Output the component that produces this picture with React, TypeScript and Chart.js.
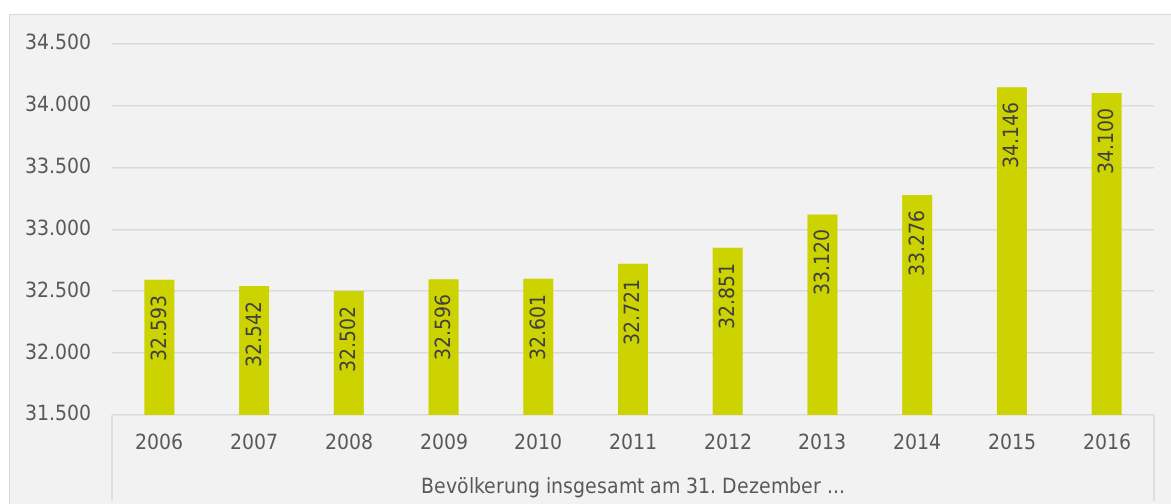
import React, { useEffect, useRef } from "react";
import { Chart, registerables } from "chart.js";

Chart.register(...registerables);

const years: string[] = ["2006", "2007", "2008", "2009", "2010", "2011", "2012", "2013", "2014", "2015", "2016"];
const population: number[] = [32593, 32542, 32502, 32596, 32601, 32721, 32851, 33120, 33276, 34146, 34100];
const axisTitle = "Bevölkerung insgesamt am 31. Dezember ...";
const yMin = 31500;
const yMax = 34500;
const yStep = 500;

const FONT = "DVCond, 'Liberation Sans', sans-serif";
const BAR = "rgb(204,211,0)";
const GRID = "#d9d9d9";
const TEXT = "#595959";

const fmt = (v: number): string => {
  const s = Math.round(v).toString();
  return s.replace(/\B(?=(\d{3})+(?!\d))/g, ".");
};

const barLabels = {
  id: "barLabels",
  afterDatasetsDraw(chart: any) {
    const ctx = chart.ctx;
    const meta = chart.getDatasetMeta(0);
    ctx.save();
    ctx.font = `21px ${FONT}`;
    ctx.fillStyle = "#404040";
    ctx.textAlign = "right";
    ctx.textBaseline = "middle";
    meta.data.forEach((bar: any, i: number) => {
      ctx.save();
      ctx.translate(bar.x + 1, bar.y + 15);
      ctx.rotate(-Math.PI / 2);
      ctx.fillText(fmt(population[i]), 0, 0);
      ctx.restore();
    });
    ctx.restore();
  },
};

const axisFrame = {
  id: "axisFrame",
  afterDraw(chart: any) {
    const { ctx, chartArea } = chart;
    ctx.save();
    ctx.strokeStyle = GRID;
    ctx.lineWidth = 1.5;
    ctx.beginPath();
    ctx.moveTo(chartArea.left, chartArea.bottom);
    ctx.lineTo(chartArea.left, chartArea.bottom + 86);
    ctx.moveTo(chartArea.right, chartArea.bottom);
    ctx.lineTo(chartArea.right, chartArea.bottom + 86);
    ctx.stroke();
    ctx.restore();
  },
};

const fontCss = `@font-face { font-family: 'DVCond'; src: local('DejaVu Sans Condensed'), local('DejaVuSansCondensed'); }`;

export default function App() {
  const ref = useRef<HTMLCanvasElement | null>(null);

  useEffect(() => {
    let chart: Chart | null = null;
    let cancelled = false;
    const build = () => {
      if (cancelled || !ref.current) return;
      chart = new Chart(ref.current, {
        type: "bar",
        data: {
          labels: years,
          datasets: [
            {
              data: population,
              backgroundColor: BAR,
              borderWidth: 0,
              categoryPercentage: 1,
              barPercentage: 0.317,
            },
          ],
        },
        options: {
          responsive: false,
          animation: false,
          layout: { padding: { top: 28.5, right: 17, left: 0, bottom: 0 } },
          plugins: {
            legend: { display: false },
            tooltip: { enabled: false },
          },
          scales: {
            x: {
              grid: { display: false, drawTicks: false },
              border: { display: false },
              ticks: {
                color: TEXT,
                font: { family: FONT, size: 21 },
                padding: 16,
                maxRotation: 0,
              },
              title: {
                display: true,
                text: axisTitle,
                color: TEXT,
                font: { family: FONT, size: 21 },
                padding: { top: 0, bottom: 10 },
              },
              afterFit: (s: any) => {
                s.height = 95;
              },
            },
            y: {
              min: yMin,
              max: yMax,
              grid: { color: GRID, lineWidth: 1.5, drawTicks: false },
              border: { display: false },
              ticks: {
                stepSize: yStep,
                color: TEXT,
                font: { family: FONT, size: 21 },
                padding: 21,
                callback: (v: any) => fmt(Number(v)),
              },
              afterFit: (s: any) => {
                s.width = 102;
                s.paddingTop = 0;
                s.paddingBottom = 0;
              },
            },
          },
        },
        plugins: [barLabels, axisFrame],
      });
    };
    const fonts: any = (document as any).fonts;
    if (fonts && fonts.load) {
      fonts.load("21px DVCond").then(build, build);
    } else {
      build();
    }
    return () => {
      cancelled = true;
      if (chart) chart.destroy();
    };
  }, []);

  return (
    <div
      style={{
        position: "absolute",
        left: 9,
        top: 14,
        width: 1200,
        height: 520,
        border: "1.5px solid #d9d9d9",
        background: "#f2f2f2",
        boxSizing: "border-box",
      }}
    >
      <style>{fontCss}</style>
      <canvas ref={ref} width={1161} height={495} style={{ display: "block" }} />
    </div>
  );
}
